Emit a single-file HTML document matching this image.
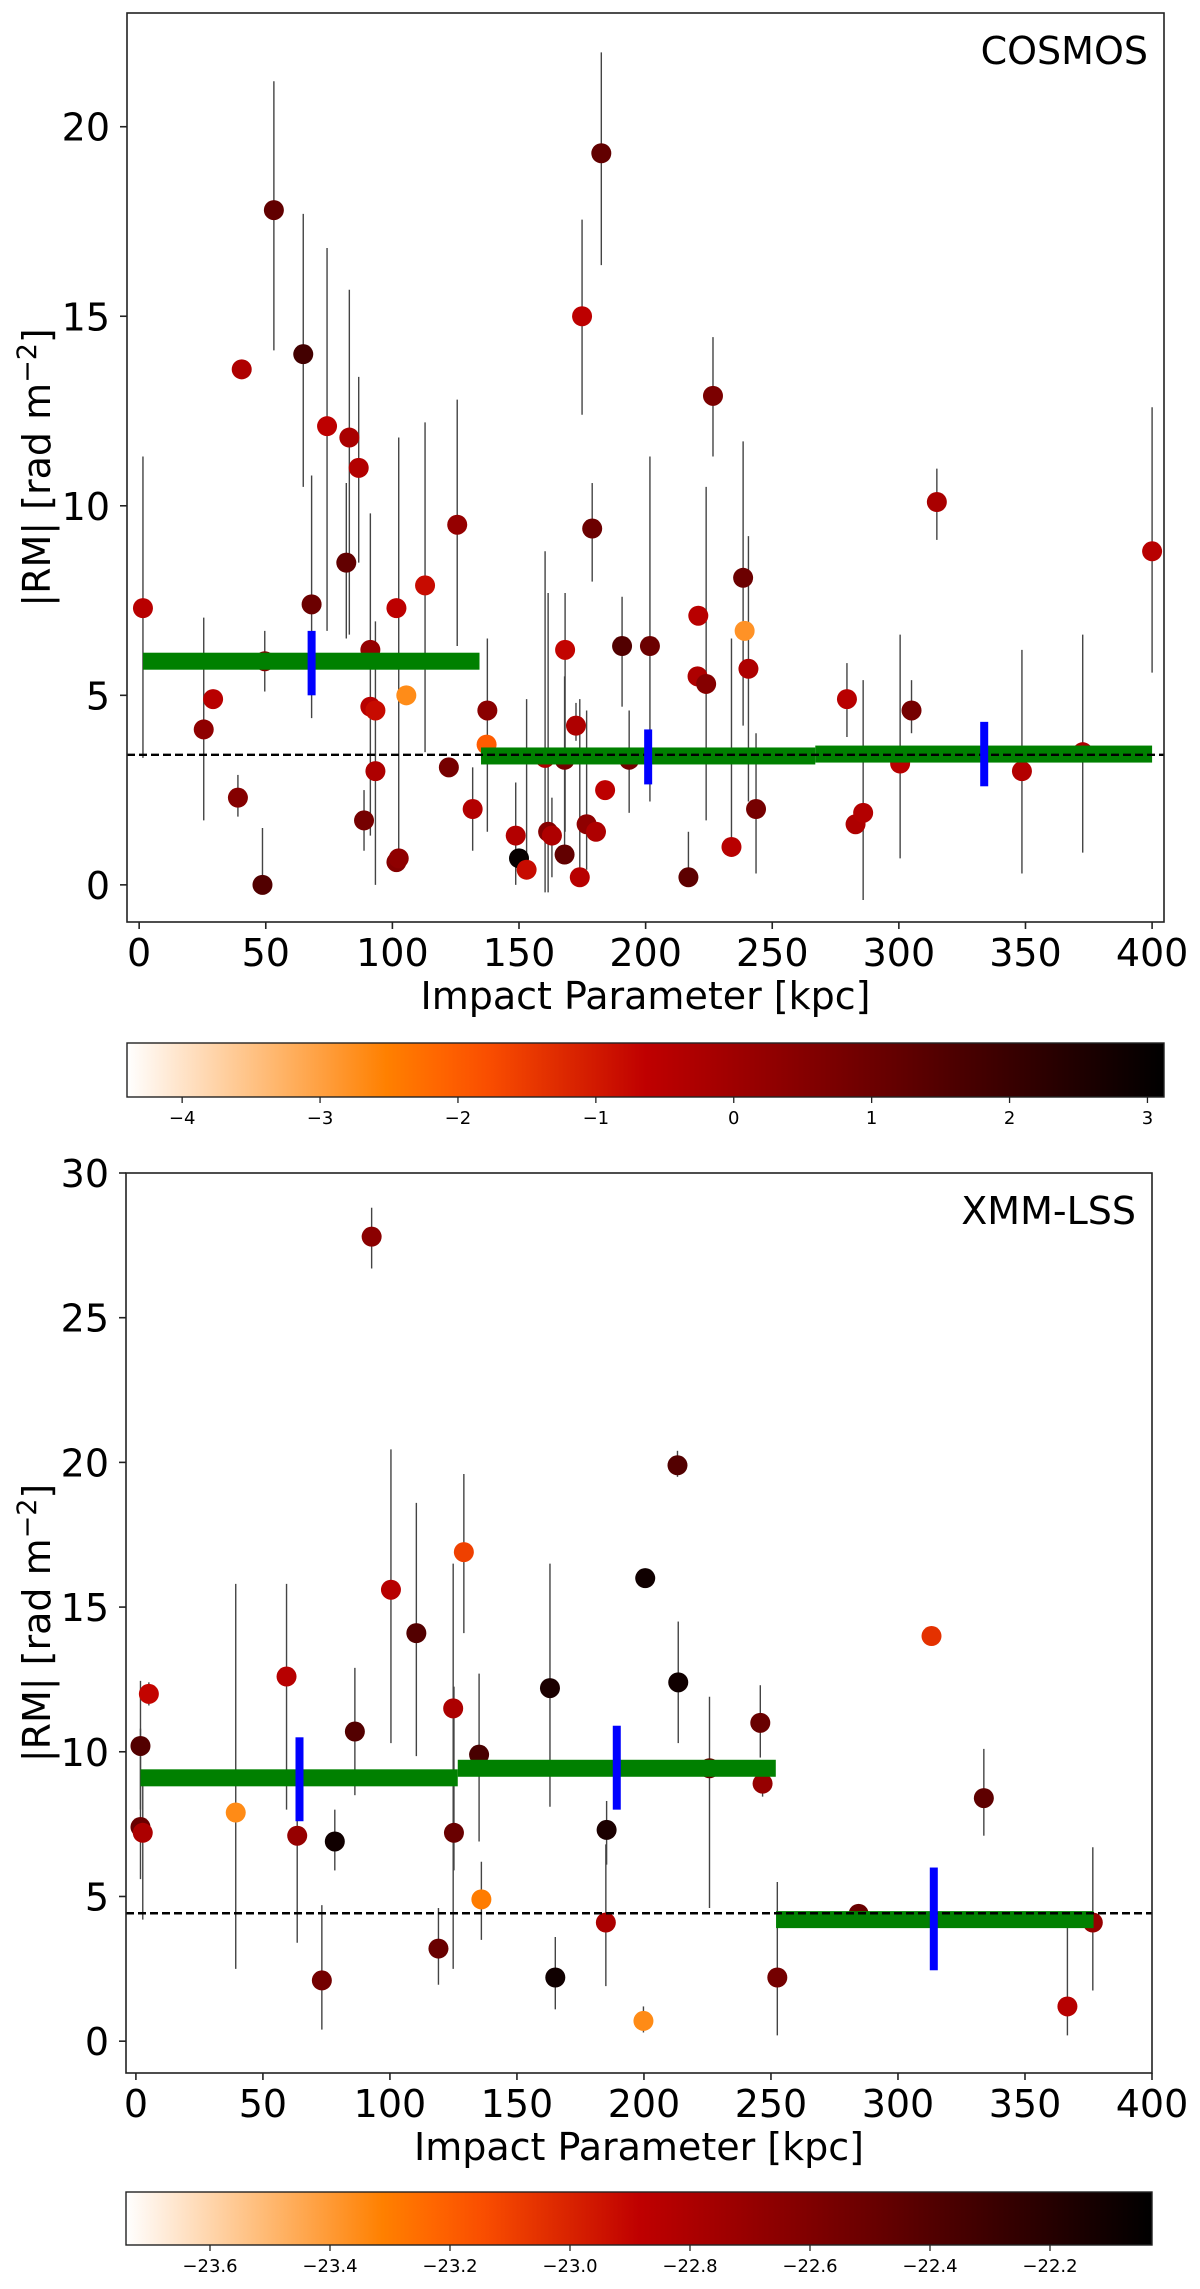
<!DOCTYPE html>
<html>
<head>
<meta charset="utf-8">
<style>
html,body{margin:0;padding:0;background:#fff;}
svg{display:block;}
text{font-family:"DejaVu Sans","Liberation Sans",sans-serif;fill:#000;}
</style>
</head>
<body>
<svg id="fig" width="1200" height="2289" viewBox="0 0 1200 2289" xmlns="http://www.w3.org/2000/svg"></svg>
<script>
// ---------- COSMOS data ----------
const cosmosX = [1.5,25.5,29.2,39,40.5,48.7,49.6,53.2,64.8,68.1,74.2,81.8,83,86.7,88.8,91.3,91.3,93.3,93.3,101.6,102.5,101.6,105.5,112.9,122.3,125.6,131.7,137.5,137.2,148.7,150,153,160.3,161.5,163,168,168.2,168,172.5,174,174.9,176.7,180.4,178.9,182.5,184,190.7,193.5,201.7,216.9,220.8,220.5,223.9,226.6,233.9,238.5,239.1,240.6,243.6,279.5,282.9,285.9,300.5,305,315,348.6,372.6,400];
const cosmosY = [7.3,4.1,4.9,2.3,13.6,0.0,5.9,17.8,14.0,7.4,12.1,8.5,11.8,11.0,1.7,6.2,4.7,4.6,3.0,0.6,0.7,7.3,5.0,7.9,3.1,9.5,2.0,4.6,3.7,1.3,0.7,0.4,3.35,1.4,1.3,3.3,6.2,0.8,4.2,0.2,15.0,1.6,1.4,9.4,19.3,2.5,6.3,3.3,6.3,0.2,7.1,5.5,5.3,12.9,1.0,8.1,6.7,5.7,2.0,4.9,1.6,1.9,3.2,4.6,10.1,3.0,3.5,8.8];
const cosmosHi = [11.3,7.05,4.9,2.9,13.6,1.5,6.7,21.2,17.7,10.8,16.8,10.6,15.7,13.4,2.5,9.8,4.7,4.6,6.95,0.6,11.8,7.3,5.0,12.2,3.1,12.8,3.1,6.5,3.7,2.7,0.7,4.9,8.8,7.7,2.3,5.5,7.7,0.8,4.8,4.9,17.55,4.6,1.4,10.6,21.96,2.5,7.6,4.6,11.3,1.4,7.1,5.5,10.5,14.45,6.5,11.7,6.7,9.2,4.0,5.85,1.6,5.4,6.6,5.4,10.98,6.2,6.6,12.6];
const cosmosLo = [3.35,1.7,4.9,1.8,13.6,0.0,5.1,14.1,10.5,4.4,6.7,6.5,6.6,8.5,0.9,1.3,4.7,4.6,0.0,0.6,0.4,7.3,5.0,3.5,3.1,6.3,0.9,1.4,3.7,0.0,0.7,0.2,-0.2,-0.2,0.2,1.0,1.4,0.8,3.8,0.0,12.4,0.4,1.4,8.0,16.35,2.5,4.7,1.9,2.2,0.1,7.1,5.5,1.7,11.3,0.9,4.2,6.7,2.2,0.3,3.9,1.6,-0.4,0.7,4.0,9.1,0.3,0.85,5.6];
const cosmosC = [-0.5,0.3,-0.5,0.5,-0.3,1.5,0.5,1.2,1.8,1.0,-0.6,1.2,-0.2,-0.4,0.8,0.2,-0.5,-0.8,-0.3,0.5,0.3,-0.6,-2.7,-0.8,0.8,0.2,-0.4,0.4,-2.0,-0.4,3.0,-0.8,-0.3,0.5,-0.3,0.8,-0.7,1.2,-0.3,-0.5,-0.6,0.3,-0.3,1.0,1.2,-0.6,1.5,0.8,1.0,1.3,-0.5,-0.3,0.5,0.7,-0.5,1.0,-2.8,-0.3,0.8,-0.5,-0.3,-0.4,-0.5,0.8,-0.2,-0.4,-0.3,-0.5];
const cosmosBinX0 = [1.5,135,267];
const cosmosBinX1 = [134.4,267,400];
const cosmosBinY = [5.9,3.4,3.45];
const cosmosMedX = [68.1,201,333.7];
const cosmosMedLo = [5.0,2.65,2.6];
const cosmosMedHi = [6.7,4.1,4.3];
const cosmosRef = 3.43;
const cosmosYTicks = [0,5,10,15,20];
const cosmosCbTicks = [-4,-3,-2,-1,0,1,2,3];

// ---------- XMM-LSS data ----------
const xmmX = [1.8,1.8,2.7,5.1,39.3,59.3,63.5,73.2,78.3,86.2,92.8,100.4,110.4,119.1,124.9,125.2,129.1,135.1,136,163,165.1,185.3,185,199.8,200.5,213.2,213.5,225.8,245.8,246.7,252.5,284.5,313.2,333.8,366.7,376.7];
const xmmY = [10.2,7.4,7.2,12.0,7.9,12.6,7.1,2.1,6.9,10.7,27.8,15.6,14.1,3.2,11.5,7.2,16.9,9.9,4.9,12.2,2.2,7.3,4.1,0.7,16.0,19.9,12.4,9.43,11.0,8.9,2.2,4.4,14.0,8.4,1.2,4.1];
const xmmHi = [12.45,10.8,9.0,12.4,15.8,15.8,8.0,4.7,8.0,12.9,28.8,20.45,18.6,4.6,16.5,12.25,19.6,12.7,6.2,16.5,3.6,8.3,6.8,1.2,16.0,20.4,14.5,11.9,12.3,9.3,5.5,4.4,14.0,10.1,4.3,6.7];
const xmmLo = [8.0,5.6,4.2,11.6,2.5,8.0,3.4,0.4,5.9,8.5,26.7,10.3,9.85,1.95,2.5,5.9,14.1,6.9,3.5,8.1,1.1,6.1,1.9,0.3,16.0,19.5,10.3,4.6,9.8,8.45,0.2,4.4,14.0,7.1,0.2,1.75];
const xmmC = [-22.4,-22.5,-22.8,-22.9,-23.35,-22.85,-22.7,-22.55,-22.1,-22.4,-22.65,-22.85,-22.4,-22.5,-22.8,-22.5,-23.1,-22.35,-23.3,-22.15,-22.1,-22.15,-22.8,-23.35,-22.1,-22.4,-22.1,-22.5,-22.5,-22.7,-22.55,-22.5,-23.05,-22.45,-22.85,-22.7];
const xmmBinX0 = [1.8,126.7,252];
const xmmBinX1 = [126.7,251.9,377];
const xmmBinY = [9.1,9.43,4.2];
const xmmMedX = [64.4,189.3,314.1];
const xmmMedLo = [7.6,8.0,2.45];
const xmmMedHi = [10.5,10.9,6.0];
const xmmRef = 4.42;
const xmmYTicks = [0,5,10,15,20,25,30];
const xmmCbTicks = [-23.6,-23.4,-23.2,-23.0,-22.8,-22.6,-22.4,-22.2];
const xTicks = [0,50,100,150,200,250,300,350,400];

const NS = "http://www.w3.org/2000/svg";
const svg = document.getElementById('fig');
function mk(tag, attrs, parent){
  const e = document.createElementNS(NS, tag);
  for (const k in attrs) e.setAttribute(k, attrs[k]);
  (parent||svg).appendChild(e);
  return e;
}
function cmap(t){
  t = Math.max(0, Math.min(1, t));
  const x = 1 - t;
  const r = Math.min(1, 1.5*x), g = Math.max(0, Math.min(1, 2*x-1)), b = Math.max(0, Math.min(1, 4*x-3));
  return `rgb(${Math.round(r*255)},${Math.round(g*255)},${Math.round(b*255)})`;
}

function panel(cfg){
  const g = mk('g', {});
  
  
  const L = cfg.L, R = cfg.R, T = cfg.T, B = cfg.B;
  const sx = v => L + (v - cfg.xmin) / (cfg.xmax - cfg.xmin) * (R - L);
  const sy = v => B - (v - cfg.ymin) / (cfg.ymax - cfg.ymin) * (B - T);
  const cnorm = v => (v - cfg.vmin) / (cfg.vmax - cfg.vmin);

  for (let i = 0; i < cfg.X.length; i++){
    if (cfg.Hi[i] === cfg.Lo[i]) continue;
    const l = mk('line', {x1: sx(cfg.X[i]), x2: sx(cfg.X[i]), y1: sy(cfg.Hi[i]), y2: sy(cfg.Lo[i]), stroke: '#444', 'stroke-width': 1.4}, g);
    
    
  }
  for (let i = 0; i < cfg.X.length; i++){
    const c = mk('circle', {cx: sx(cfg.X[i]), cy: sy(cfg.Y[i]), r: 10, fill: cmap(cnorm(cfg.C[i]))}, g);
    
    
  }
  for (let i = 0; i < cfg.binX0.length; i++){
    const r = mk('rect', {x: sx(cfg.binX0[i]), y: sy(cfg.binY[i]) - 8.5, width: sx(cfg.binX1[i]) - sx(cfg.binX0[i]), height: 17, fill: '#008000'}, g);
    
    
  }
  const d = mk('line', {x1: L, x2: R, y1: sy(cfg.ref), y2: sy(cfg.ref), stroke: '#000', 'stroke-width': 2.4, 'stroke-dasharray': '8,4'}, g);
  
  
  for (let i = 0; i < cfg.medX.length; i++){
    const r = mk('rect', {x: sx(cfg.medX[i]) - 4, y: sy(cfg.medHi[i]), width: 8, height: sy(cfg.medLo[i]) - sy(cfg.medHi[i]), fill: '#0000ff'}, g);
    
    
  }
  const fr = mk('rect', {x: L, y: T, width: R - L, height: B - T, fill: 'none', stroke: '#222', 'stroke-width': 1.6}, g);
  
  
  xTicks.forEach(v => {
    mk('line', {x1: sx(v), x2: sx(v), y1: B, y2: B + 7, stroke: '#222', 'stroke-width': 1.6}, g);
    const t = mk('text', {x: sx(v), y: B + 44, 'font-size': 38, 'text-anchor': 'middle'}, g);
    t.textContent = v;
    
    
  });
  cfg.yTicks.forEach(v => {
    mk('line', {x1: L - 7, x2: L, y1: sy(v), y2: sy(v), stroke: '#222', 'stroke-width': 1.6}, g);
    const t = mk('text', {x: L - 17, y: sy(v) + 14, 'font-size': 38, 'text-anchor': 'end'}, g);
    t.textContent = v;
    
    
  });
  const xl = mk('text', {x: (L + R) / 2, y: B + 87, 'font-size': 38, 'text-anchor': 'middle'}, g);
  xl.textContent = 'Impact Parameter [kpc]';
  
  
  const yc = (T + B) / 2;
  const yl = mk('text', {x: 0, y: 0, 'font-size': 38, 'text-anchor': 'middle', transform: `translate(50,${yc}) rotate(-90)`}, g);
  yl.innerHTML = '|RM| [rad m<tspan dy="-14" font-size="27">−2</tspan><tspan dy="14">]</tspan>';
  
  
  const ti = mk('text', {x: R - 16, y: T + 51, 'font-size': 38, 'text-anchor': 'end'}, g);
  ti.textContent = cfg.title;
  
  

  const cb = mk('g', {}, g);
  
  
  const gid = cfg.name + '-grad';
  const defs = mk('defs', {}, cb);
  const lg = mk('linearGradient', {id: gid, x1: 0, x2: 1, y1: 0, y2: 0}, defs);
  for (let k = 0; k <= 20; k++){
    mk('stop', {offset: k / 20, 'stop-color': cmap(k / 20)}, lg);
  }
  mk('rect', {x: cfg.cbL, y: cfg.cbT, width: cfg.cbR - cfg.cbL, height: cfg.cbB - cfg.cbT, fill: `url(#${gid})`, stroke: '#222', 'stroke-width': 1.4}, cb);
  const cx = v => cfg.cbL + (v - cfg.vmin) / (cfg.vmax - cfg.vmin) * (cfg.cbR - cfg.cbL);
  cfg.cbTicks.forEach(v => {
    mk('line', {x1: cx(v), x2: cx(v), y1: cfg.cbB, y2: cfg.cbB + 6, stroke: '#222', 'stroke-width': 1.3}, cb);
    const t = mk('text', {x: cx(v), y: cfg.cbB + 27, 'font-size': 18, 'text-anchor': 'middle'}, cb);
    t.textContent = (v < 0 ? '−' : '') + (cfg.cbDec ? Math.abs(v).toFixed(1) : Math.abs(v));
    
    
  });
}

panel({name: 'cosmos', title: 'COSMOS', L: 127, R: 1164, T: 13, B: 922,
  xmin: -4.8, xmax: 404.7, ymin: -0.98, ymax: 23.0,
  X: cosmosX, Y: cosmosY, Hi: cosmosHi, Lo: cosmosLo, C: cosmosC,
  binX0: cosmosBinX0, binX1: cosmosBinX1, binY: cosmosBinY,
  medX: cosmosMedX, medLo: cosmosMedLo, medHi: cosmosMedHi, ref: cosmosRef,
  yTicks: cosmosYTicks, vmin: -4.4, vmax: 3.12, cbTicks: cosmosCbTicks, cbDec: false,
  cbL: 127, cbR: 1164, cbT: 1043, cbB: 1097});

panel({name: 'xmm', title: 'XMM-LSS', L: 126, R: 1152, T: 1173, B: 2073,
  xmin: -3.9, xmax: 400, ymin: -1.1, ymax: 30,
  X: xmmX, Y: xmmY, Hi: xmmHi, Lo: xmmLo, C: xmmC,
  binX0: xmmBinX0, binX1: xmmBinX1, binY: xmmBinY,
  medX: xmmMedX, medLo: xmmMedLo, medHi: xmmMedHi, ref: xmmRef,
  yTicks: xmmYTicks, vmin: -23.74, vmax: -22.03, cbTicks: xmmCbTicks, cbDec: true,
  cbL: 126, cbR: 1152, cbT: 2192, cbB: 2245});
</script>
</body>
</html>
